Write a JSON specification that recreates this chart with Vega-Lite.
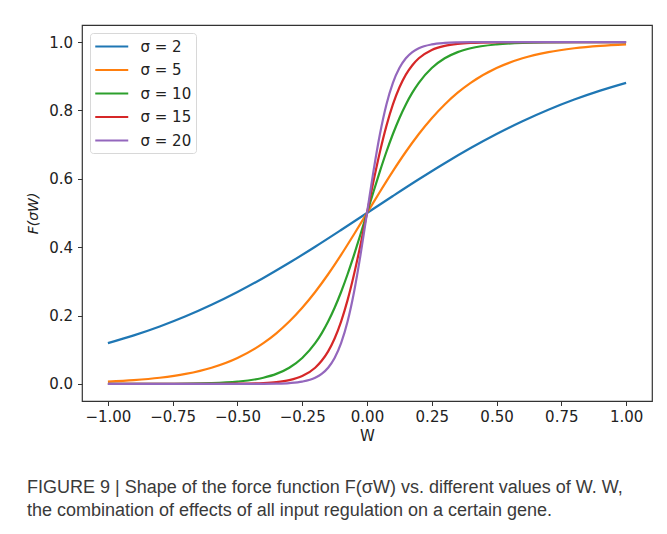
{
  "$schema": "https://vega.github.io/schema/vega-lite/v6.json",
  "width": 570,
  "height": 376,
  "autosize": {"type": "none"},
  "padding": {"left": 82, "top": 25, "right": 15, "bottom": 133},
  "background": "white",
  "title": {
    "text": ["FIGURE 9 | Shape of the force function F(σW) vs. different values of W. W,", "the combination of effects of all input regulation on a certain gene."],
    "orient": "bottom",
    "anchor": "start",
    "frame": "group",
    "dx": -55,
    "offset": 35,
    "font": "Liberation Sans",
    "fontSize": 18,
    "fontWeight": "normal",
    "color": "#3a3a3a",
    "lineHeight": 23.5
  },
  "data": {
    "values": [
      {"W": -1, "s": "σ = 2", "F": 0.1192}, {"W": -0.9, "s": "σ = 2", "F": 0.1419}, {"W": -0.8, "s": "σ = 2", "F": 0.168}, {"W": -0.7, "s": "σ = 2", "F": 0.1978}, {"W": -0.6, "s": "σ = 2", "F": 0.2315}, {"W": -0.5, "s": "σ = 2", "F": 0.2689}, {"W": -0.4, "s": "σ = 2", "F": 0.31}, {"W": -0.3, "s": "σ = 2", "F": 0.3543}, {"W": -0.2, "s": "σ = 2", "F": 0.4013}, {"W": -0.1, "s": "σ = 2", "F": 0.4502}, {"W": 0, "s": "σ = 2", "F": 0.5}, {"W": 0.1, "s": "σ = 2", "F": 0.5498}, {"W": 0.2, "s": "σ = 2", "F": 0.5987}, {"W": 0.3, "s": "σ = 2", "F": 0.6457}, {"W": 0.4, "s": "σ = 2", "F": 0.69}, {"W": 0.5, "s": "σ = 2", "F": 0.7311}, {"W": 0.6, "s": "σ = 2", "F": 0.7685}, {"W": 0.7, "s": "σ = 2", "F": 0.8022}, {"W": 0.8, "s": "σ = 2", "F": 0.832}, {"W": 0.9, "s": "σ = 2", "F": 0.8581}, {"W": 1, "s": "σ = 2", "F": 0.8808},

      {"W": -1, "s": "σ = 5", "F": 0.0067}, {"W": -0.9, "s": "σ = 5", "F": 0.011}, {"W": -0.8, "s": "σ = 5", "F": 0.018}, {"W": -0.7, "s": "σ = 5", "F": 0.0293}, {"W": -0.6, "s": "σ = 5", "F": 0.0474}, {"W": -0.5, "s": "σ = 5", "F": 0.0759}, {"W": -0.4, "s": "σ = 5", "F": 0.1192}, {"W": -0.35, "s": "σ = 5", "F": 0.148}, {"W": -0.3, "s": "σ = 5", "F": 0.1824}, {"W": -0.25, "s": "σ = 5", "F": 0.2227}, {"W": -0.2, "s": "σ = 5", "F": 0.2689}, {"W": -0.15, "s": "σ = 5", "F": 0.3208}, {"W": -0.1, "s": "σ = 5", "F": 0.3775}, {"W": -0.05, "s": "σ = 5", "F": 0.4378}, {"W": 0, "s": "σ = 5", "F": 0.5}, {"W": 0.05, "s": "σ = 5", "F": 0.5622}, {"W": 0.1, "s": "σ = 5", "F": 0.6225}, {"W": 0.15, "s": "σ = 5", "F": 0.6792}, {"W": 0.2, "s": "σ = 5", "F": 0.7311}, {"W": 0.25, "s": "σ = 5", "F": 0.7773}, {"W": 0.3, "s": "σ = 5", "F": 0.8176}, {"W": 0.35, "s": "σ = 5", "F": 0.852}, {"W": 0.4, "s": "σ = 5", "F": 0.8808}, {"W": 0.5, "s": "σ = 5", "F": 0.9241}, {"W": 0.6, "s": "σ = 5", "F": 0.9526}, {"W": 0.7, "s": "σ = 5", "F": 0.9707}, {"W": 0.8, "s": "σ = 5", "F": 0.982}, {"W": 0.9, "s": "σ = 5", "F": 0.989}, {"W": 1, "s": "σ = 5", "F": 0.9933},

      {"W": -1, "s": "σ = 10", "F": 0.0}, {"W": -0.8, "s": "σ = 10", "F": 0.0003}, {"W": -0.6, "s": "σ = 10", "F": 0.0025}, {"W": -0.5, "s": "σ = 10", "F": 0.0067}, {"W": -0.4, "s": "σ = 10", "F": 0.018}, {"W": -0.35, "s": "σ = 10", "F": 0.0293}, {"W": -0.3, "s": "σ = 10", "F": 0.0474}, {"W": -0.25, "s": "σ = 10", "F": 0.0759}, {"W": -0.2, "s": "σ = 10", "F": 0.1192}, {"W": -0.175, "s": "σ = 10", "F": 0.148}, {"W": -0.15, "s": "σ = 10", "F": 0.1824}, {"W": -0.125, "s": "σ = 10", "F": 0.2227}, {"W": -0.1, "s": "σ = 10", "F": 0.2689}, {"W": -0.075, "s": "σ = 10", "F": 0.3208}, {"W": -0.05, "s": "σ = 10", "F": 0.3775}, {"W": -0.025, "s": "σ = 10", "F": 0.4378}, {"W": 0, "s": "σ = 10", "F": 0.5}, {"W": 0.025, "s": "σ = 10", "F": 0.5622}, {"W": 0.05, "s": "σ = 10", "F": 0.6225}, {"W": 0.075, "s": "σ = 10", "F": 0.6792}, {"W": 0.1, "s": "σ = 10", "F": 0.7311}, {"W": 0.125, "s": "σ = 10", "F": 0.7773}, {"W": 0.15, "s": "σ = 10", "F": 0.8176}, {"W": 0.175, "s": "σ = 10", "F": 0.852}, {"W": 0.2, "s": "σ = 10", "F": 0.8808}, {"W": 0.25, "s": "σ = 10", "F": 0.9241}, {"W": 0.3, "s": "σ = 10", "F": 0.9526}, {"W": 0.35, "s": "σ = 10", "F": 0.9707}, {"W": 0.4, "s": "σ = 10", "F": 0.982}, {"W": 0.5, "s": "σ = 10", "F": 0.9933}, {"W": 0.6, "s": "σ = 10", "F": 0.9975}, {"W": 0.8, "s": "σ = 10", "F": 0.9997}, {"W": 1, "s": "σ = 10", "F": 1.0},

      {"W": -1, "s": "σ = 15", "F": 0.0}, {"W": -0.8, "s": "σ = 15", "F": 0.0}, {"W": -0.6, "s": "σ = 15", "F": 0.0001}, {"W": -0.5, "s": "σ = 15", "F": 0.0006}, {"W": -0.4, "s": "σ = 15", "F": 0.0025}, {"W": -0.35, "s": "σ = 15", "F": 0.0052}, {"W": -0.3, "s": "σ = 15", "F": 0.011}, {"W": -0.25, "s": "σ = 15", "F": 0.023}, {"W": -0.2, "s": "σ = 15", "F": 0.0474}, {"W": -0.175, "s": "σ = 15", "F": 0.0676}, {"W": -0.15, "s": "σ = 15", "F": 0.0953}, {"W": -0.125, "s": "σ = 15", "F": 0.133}, {"W": -0.1, "s": "σ = 15", "F": 0.1824}, {"W": -0.075, "s": "σ = 15", "F": 0.2451}, {"W": -0.05, "s": "σ = 15", "F": 0.3208}, {"W": -0.025, "s": "σ = 15", "F": 0.4073}, {"W": 0, "s": "σ = 15", "F": 0.5}, {"W": 0.025, "s": "σ = 15", "F": 0.5927}, {"W": 0.05, "s": "σ = 15", "F": 0.6792}, {"W": 0.075, "s": "σ = 15", "F": 0.7549}, {"W": 0.1, "s": "σ = 15", "F": 0.8176}, {"W": 0.125, "s": "σ = 15", "F": 0.867}, {"W": 0.15, "s": "σ = 15", "F": 0.9047}, {"W": 0.175, "s": "σ = 15", "F": 0.9324}, {"W": 0.2, "s": "σ = 15", "F": 0.9526}, {"W": 0.25, "s": "σ = 15", "F": 0.977}, {"W": 0.3, "s": "σ = 15", "F": 0.989}, {"W": 0.35, "s": "σ = 15", "F": 0.9948}, {"W": 0.4, "s": "σ = 15", "F": 0.9975}, {"W": 0.5, "s": "σ = 15", "F": 0.9994}, {"W": 0.6, "s": "σ = 15", "F": 0.9999}, {"W": 0.8, "s": "σ = 15", "F": 1.0}, {"W": 1, "s": "σ = 15", "F": 1.0},

      {"W": -1, "s": "σ = 20", "F": 0.0}, {"W": -0.8, "s": "σ = 20", "F": 0.0}, {"W": -0.6, "s": "σ = 20", "F": 0.0}, {"W": -0.5, "s": "σ = 20", "F": 0.0}, {"W": -0.4, "s": "σ = 20", "F": 0.0003}, {"W": -0.35, "s": "σ = 20", "F": 0.0009}, {"W": -0.3, "s": "σ = 20", "F": 0.0025}, {"W": -0.25, "s": "σ = 20", "F": 0.0067}, {"W": -0.2, "s": "σ = 20", "F": 0.018}, {"W": -0.175, "s": "σ = 20", "F": 0.0293}, {"W": -0.15, "s": "σ = 20", "F": 0.0474}, {"W": -0.125, "s": "σ = 20", "F": 0.0759}, {"W": -0.1, "s": "σ = 20", "F": 0.1192}, {"W": -0.075, "s": "σ = 20", "F": 0.1824}, {"W": -0.05, "s": "σ = 20", "F": 0.2689}, {"W": -0.025, "s": "σ = 20", "F": 0.3775}, {"W": 0, "s": "σ = 20", "F": 0.5}, {"W": 0.025, "s": "σ = 20", "F": 0.6225}, {"W": 0.05, "s": "σ = 20", "F": 0.7311}, {"W": 0.075, "s": "σ = 20", "F": 0.8176}, {"W": 0.1, "s": "σ = 20", "F": 0.8808}, {"W": 0.125, "s": "σ = 20", "F": 0.9241}, {"W": 0.15, "s": "σ = 20", "F": 0.9526}, {"W": 0.175, "s": "σ = 20", "F": 0.9707}, {"W": 0.2, "s": "σ = 20", "F": 0.982}, {"W": 0.25, "s": "σ = 20", "F": 0.9933}, {"W": 0.3, "s": "σ = 20", "F": 0.9975}, {"W": 0.35, "s": "σ = 20", "F": 0.9991}, {"W": 0.4, "s": "σ = 20", "F": 0.9997}, {"W": 0.5, "s": "σ = 20", "F": 1.0}, {"W": 0.6, "s": "σ = 20", "F": 1.0}, {"W": 0.8, "s": "σ = 20", "F": 1.0}, {"W": 1, "s": "σ = 20", "F": 1.0}
    ]
  },
  "mark": {"type": "line", "strokeWidth": 2.2, "interpolate": "monotone"},
  "encoding": {
    "x": {
      "field": "W",
      "type": "quantitative",
      "scale": {"domain": [-1.1, 1.1], "nice": false, "zero": false},
      "axis": {
        "title": "W",
        "values": [-1, -0.75, -0.5, -0.25, 0, 0.25, 0.5, 0.75, 1],
        "labelExpr": "replace(format(datum.value, '.2f'), '-', '−')",
        "grid": false,
        "domain": false,
        "tickColor": "#333",
        "tickSize": 4.5,
        "labelPadding": 4,
        "labelFont": "DejaVu Sans",
        "labelFontSize": 15,
        "labelColor": "#222",
        "titleFont": "DejaVu Sans",
        "titleFontSize": 15,
        "titleFontWeight": "normal",
        "titleColor": "#222",
        "titlePadding": 4
      }
    },
    "y": {
      "field": "F",
      "type": "quantitative",
      "scale": {"domain": [-0.05, 1.05], "nice": false, "zero": false},
      "axis": {
        "title": "F(σW)",
        "values": [0, 0.2, 0.4, 0.6, 0.8, 1.0],
        "format": ".1f",
        "grid": false,
        "domain": false,
        "tickColor": "#333",
        "tickSize": 4.5,
        "labelPadding": 5,
        "labelFont": "DejaVu Sans",
        "labelFontSize": 15,
        "labelColor": "#222",
        "titleFont": "DejaVu Sans",
        "titleFontSize": 14,
        "titleFontStyle": "italic",
        "titleFontWeight": "normal",
        "titleColor": "#222",
        "titlePadding": 8
      }
    },
    "color": {
      "field": "s",
      "type": "nominal",
      "scale": {
        "domain": ["σ = 2", "σ = 5", "σ = 10", "σ = 15", "σ = 20"],
        "range": ["#1f77b4", "#ff7f0e", "#2ca02c", "#d62728", "#9467bd"]
      },
      "legend": {
        "title": null,
        "orient": "top-left",
        "offset": 8,
        "padding": 4,
        "fillColor": "white",
        "strokeColor": "#d8d8d8",
        "cornerRadius": 3,
        "symbolType": "M-1,0H3",
        "symbolSize": 272,
        "symbolStrokeWidth": 2.2,
        "labelFont": "DejaVu Sans",
        "labelFontSize": 15,
        "labelColor": "#222",
        "labelOffset": 27.5,
        "rowPadding": 5.5
      }
    }
  },
  "config": {
    "view": {"stroke": "#333", "strokeWidth": 1.2}
  }
}
